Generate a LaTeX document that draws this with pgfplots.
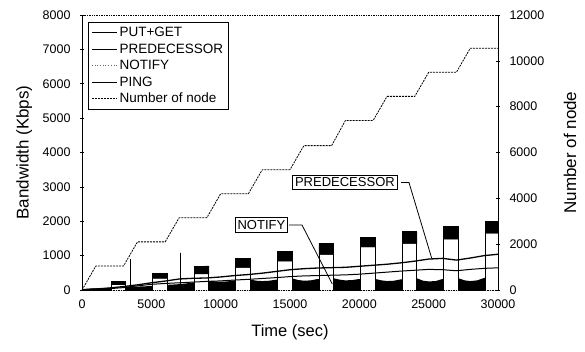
\documentclass[border=0pt]{standalone}
\usepackage{pgfplots}
\pgfplotsset{compat=1.18}
\usepackage{fontspec}
\setmainfont{Liberation Sans}

\pgfplotsset{
  common/.style={
    at={(0pt,0pt)}, anchor=south west,
    scale only axis, width=416pt, height=275pt,
    xmin=0, xmax=30000,
    /pgf/number format/.cd, 1000 sep={}, assume math mode=true, /pgfplots/.cd,
    scaled ticks=false,
    tick align=center, major tick length=4pt,
    tick style={black, line width=0.5pt},
    ticklabel style={font=\fontsize{12.5}{14}\selectfont},
  }
}

\begin{document}
\begin{tikzpicture}
\useasboundingbox (-82pt,-61pt) rectangle (503pt,290pt);
% ---------------- left axis: bandwidth ----------------
\begin{axis}[
  common,
  ymin=0, ymax=8000,
  ytick={0,1000,...,8000},
  xtick={0,5000,...,30000},
  ytick pos=left, xtick pos=bottom,
  x tick style={draw=none},
  separate axis lines,
  x axis line style={densely dotted, line width=0.7pt},
  y axis line style={line width=0.6pt},
  xlabel={Time (sec)}, ylabel={Bandwidth (Kbps)},
  every axis x label/.style={at={(axis description cs:0.5,-0.153)}, anchor=center, font=\fontsize{16.5}{18}\selectfont},
  every axis y label/.style={at={(axis description cs:-0.139,0.5)}, anchor=center, rotate=90, font=\fontsize{17}{18}\selectfont},
  xticklabel style={yshift=-4pt},
  yticklabel style={xshift=-6pt},
  clip=true,
]
% NOTIFY: dense noisy low band (rendered as solid fill)
\addplot[fill=black, draw=none] table[row sep=\\] {
x y\\
0 0\\ 100 30\\ 600 45\\ 1000 50\\ 1500 55\\ 2000 60\\ 2100 60\\ 2100 0\\
3150 0\\ 3150 90\\ 3600 95\\ 4000 100\\ 4500 105\\ 5000 120\\ 5100 120\\ 5100 0\\
6150 0\\ 6150 150\\ 6600 160\\ 7000 170\\ 7500 190\\ 8000 220\\ 8100 220\\ 8100 0\\
9150 0\\ 9150 270\\ 9600 250\\ 10000 240\\ 10500 250\\ 11000 280\\ 11100 280\\ 11100 0\\
12150 0\\ 12150 300\\ 12600 270\\ 13000 260\\ 13500 270\\ 14000 300\\ 14100 300\\ 14100 0\\
15150 0\\ 15150 340\\ 15600 290\\ 16000 270\\ 16500 280\\ 17000 320\\ 17100 320\\ 17100 0\\
18150 0\\ 18150 340\\ 18600 300\\ 19000 280\\ 19500 290\\ 20000 320\\ 20100 320\\ 20100 0\\
21150 0\\ 21150 320\\ 21600 280\\ 22000 260\\ 22500 270\\ 23000 310\\ 23100 310\\ 23100 0\\
24150 0\\ 24150 340\\ 24600 270\\ 25000 250\\ 25500 260\\ 26000 320\\ 26100 320\\ 26100 0\\
27150 0\\ 27150 340\\ 27600 280\\ 28000 260\\ 28500 280\\ 29000 350\\ 29100 350\\ 29100 0\\
30000 0\\
} \closedcycle;
% PUT+GET: periodic bursts (outline) and isolated spikes
\addplot[black, line width=0.9pt] coordinates {
(0,0) (2100,0) (2100,260) (3150,260) (3150,0)
(3530,0) (3530,895) (3530,0)
(5100,0) (5100,480) (6150,480) (6150,0)
(7120,0) (7120,1080) (7120,0)
(8100,0) (8100,690) (9150,690) (9150,0)
(11100,0) (11100,910) (12150,910) (12150,0)
(14100,0) (14100,1120) (15150,1120) (15150,0)
(17100,0) (17100,1350) (18150,1350) (18150,0)
(20100,0) (20100,1520) (21150,1520) (21150,0)
(23100,0) (23100,1690) (24150,1690) (24150,0)
(26100,0) (26100,1840) (27150,1840) (27150,0)
(29100,0) (29100,1990) (30000,1990)
};
% dense noisy tops of the bursts
\addplot[fill=black, draw=black] coordinates {(2100,170) (2100,260) (3150,260) (3150,170)} -- cycle;
\addplot[fill=black, draw=black] coordinates {(5100,340) (5100,480) (6150,485) (6150,340)} -- cycle;
\addplot[fill=black, draw=black] coordinates {(8100,470) (8100,685) (9150,695) (9150,470)} -- cycle;
\addplot[fill=black, draw=black] coordinates {(11100,650) (11100,905) (12150,915) (12150,650)} -- cycle;
\addplot[fill=black, draw=black] coordinates {(14100,840) (14100,1110) (15150,1125) (15150,840)} -- cycle;
\addplot[fill=black, draw=black] coordinates {(17100,1030) (17100,1340) (18150,1355) (18150,1030)} -- cycle;
\addplot[fill=black, draw=black] coordinates {(20100,1250) (20100,1510) (21150,1525) (21150,1250)} -- cycle;
\addplot[fill=black, draw=black] coordinates {(23100,1350) (23100,1690) (24150,1680) (24150,1350)} -- cycle;
\addplot[fill=black, draw=black] coordinates {(26100,1480) (26100,1840) (27150,1830) (27150,1480)} -- cycle;
\addplot[fill=black, draw=black] coordinates {(29100,1650) (29100,1995) (30000,1980) (30000,1650)} -- cycle;
% PING (lower smooth line)
\addplot[black, line width=1pt] coordinates {
(0,0) (1000,20) (2000,40) (3000,70) (4000,120) (5000,165) (6000,190) (7000,210)
(8000,230) (9000,250) (10000,265) (11000,290) (12000,310) (13000,335) (14000,360)
(15000,390) (16000,410) (17000,420) (18000,430) (19000,440) (20000,460) (21000,490)
(22000,520) (23000,550) (24000,575) (25000,600) (26000,590) (27000,560) (28000,600)
(29000,630) (30000,645)
};
% PREDECESSOR (upper smooth line)
\addplot[black, line width=1.3pt] coordinates {
(0,0) (1000,30) (2000,60) (3000,100) (4000,150) (5000,210) (6000,260) (7000,320)
(8000,340) (9000,350) (10000,380) (11000,420) (12000,450) (13000,490) (14000,540)
(15000,590) (16000,620) (17000,640) (18000,650) (19000,660) (20000,690) (21000,720)
(22000,750) (23000,790) (24000,840) (25000,900) (26000,920) (27000,870) (28000,930)
(29000,1000) (30000,1040)
};
% callouts
\draw[black, line width=0.8pt] (axis cs:23005,3127) -- (axis cs:23580,3127) -- (axis cs:25220,922);
\draw[black, line width=0.8pt] (axis cs:14930,1891) -- (axis cs:15865,1891) -- (axis cs:18050,175);
\node[draw=black, line width=0.8pt, fill=white, inner sep=2.5pt, font=\fontsize{13}{15}\selectfont]
  at (axis cs:18960,3127) {PREDECESSOR};
\node[draw=black, line width=0.8pt, fill=white, inner sep=2.5pt, font=\fontsize{13}{15}\selectfont]
  at (axis cs:12940,1891) {NOTIFY};
\end{axis}
% ---------------- right axis: number of nodes ----------------
\begin{axis}[
  common,
  ymin=0, ymax=12000,
  ytick={0,2000,...,12000},
  axis x line=none,
  axis y line*=right,
  y axis line style={line width=0.6pt, -},
  ylabel={Number of node},
  every axis y label/.style={at={(axis description cs:1.173,0.5)}, anchor=center, rotate=90, font=\fontsize{17}{18}\selectfont},
  yticklabel style={xshift=6pt},
  legend image code/.code={\draw[#1] (0pt,0pt) -- (25pt,0pt);},
  legend cell align=left,
  legend style={at={(axis description cs:0.0144,0.9745)}, anchor=north west,
    draw=black, line width=0.6pt, fill=white,
    font=\fontsize{13.5}{15}\selectfont, inner xsep=3pt, inner ysep=3pt,
    row sep=1.5pt},
]
\addlegendimage{black, line width=0.8pt}
\addlegendentry{PUT+GET}
\addlegendimage{black, line width=1.3pt}
\addlegendentry{PREDECESSOR}
\addlegendimage{black!60, dotted, line width=0.7pt}
\addlegendentry{NOTIFY}
\addlegendimage{black, line width=1pt}
\addlegendentry{PING}
\addplot[black, line width=0.8pt, dash pattern=on 2pt off 1pt] coordinates {
(0,0) (1000,1050) (3000,1050) (4000,2100) (6000,2100) (7000,3150) (9000,3150)
(10000,4200) (12000,4200) (13000,5250) (15000,5250) (16000,6300) (18000,6300)
(19000,7400) (21000,7400) (22000,8450) (24000,8450) (25000,9500) (27000,9500)
(28000,10550) (30000,10550)
};
\addlegendentry{Number of node}
\end{axis}
\end{tikzpicture}
\end{document}
